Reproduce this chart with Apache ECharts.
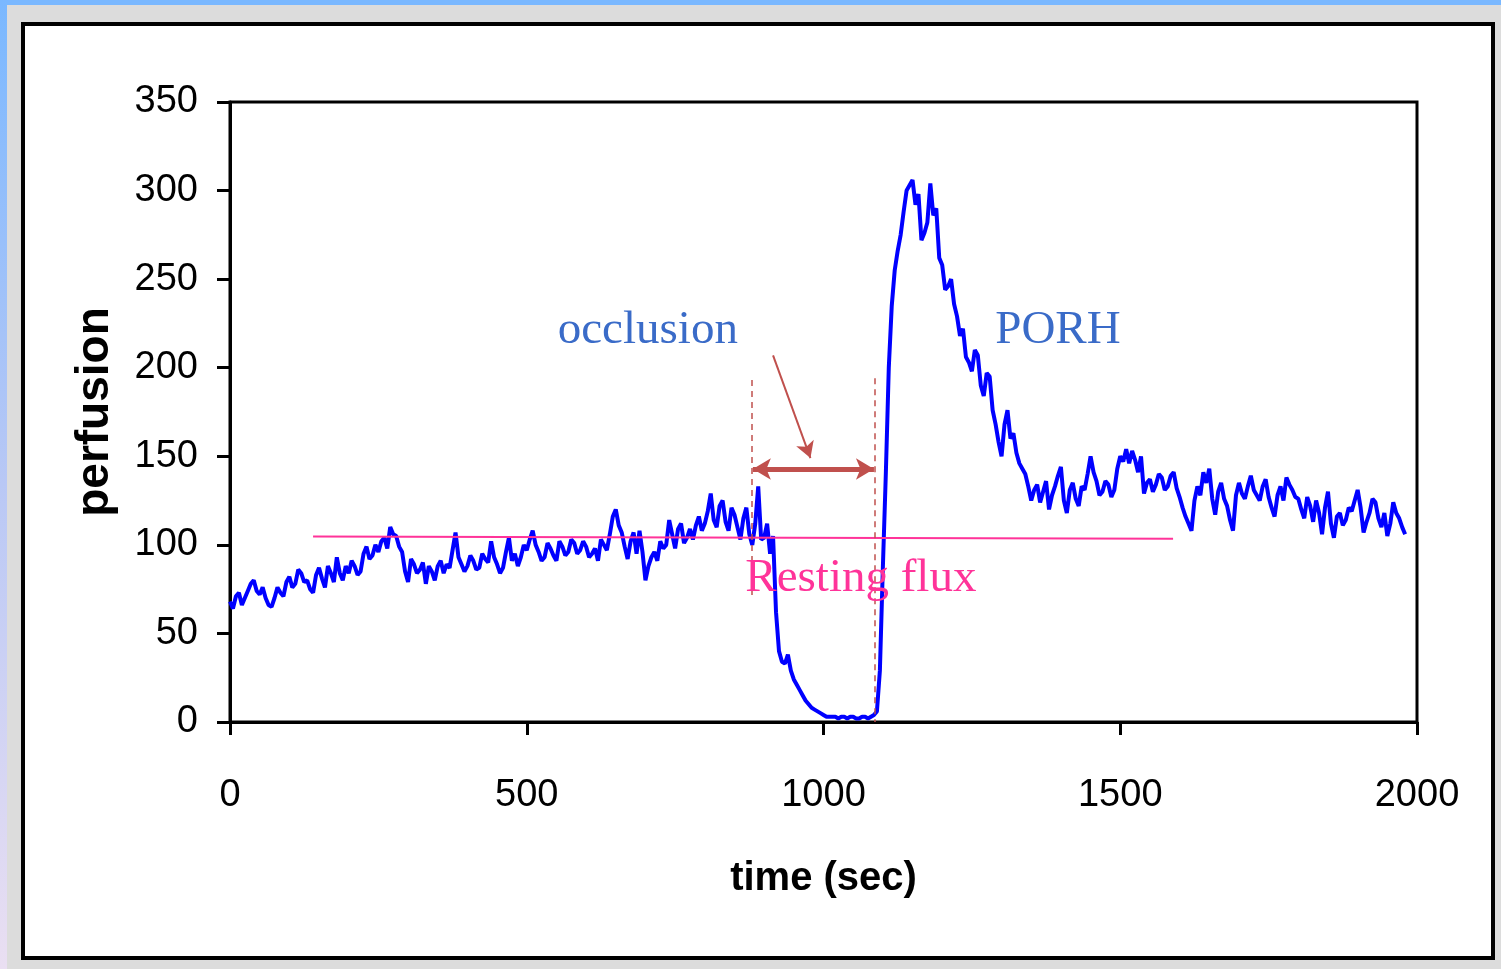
<!DOCTYPE html>
<html>
<head>
<meta charset="utf-8">
<script src="https://cdn.jsdelivr.net/npm/echarts@6/dist/echarts.min.js"></script>
<style>
  html, body { margin: 0; padding: 0; }
  body { width: 1501px; height: 969px; background: #dcdcdc; position: relative; overflow: hidden; }
  #topBar { position: absolute; left: 0; top: 0; width: 1501px; height: 5px; background: #7ab8ff; }
  #leftBar { position: absolute; left: 0; top: 0; width: 7px; height: 969px;
             background: linear-gradient(to bottom, #7ab8ff 0%, #b9c8f5 50%, #eadff2 100%); }
  #frame { position: absolute; left: 21px; top: 22px; width: 1474px; height: 938px;
           box-sizing: border-box; border: 4px solid #000; background: #fff; }
  #chart { position: absolute; left: 0; top: 0; width: 1501px; height: 969px; }
</style>
</head>
<body>
<div id="topBar"></div>
<div id="leftBar"></div>
<div id="frame"></div>
<div id="chart"></div>
<script>
// sample times (sec): every 10 s, plus the readings in between (t + 5)
var times = [];
for (var i = 0; i <= 198; i++) times.push(i * 10);
var timesMid = [];
for (var j = 0; j < 198; j++) timesMid.push(j * 10 + 5);

// perfusion at t = 0, 10, 20 ... (rows of 100 s)
var perfusion = [
    68, 71, 66, 74, 80, 72, 70, 65, 76, 71,
    82, 78, 84, 80, 73, 87, 76, 84, 93, 80,
    84, 88, 85, 99, 94, 96, 104, 110, 105, 96,
    79, 89, 86, 78, 85, 88, 84, 87, 107, 89,
    88, 91, 87, 92, 102, 89, 87, 104, 95, 93,
    97, 108, 96, 93, 98, 91, 99, 96, 101, 97,
    99, 95, 91, 100, 106, 120, 107, 92, 107, 108,
    80, 93, 91, 98, 114, 98, 112, 104, 103, 116,
    112, 129, 110, 125, 108, 117, 103, 121, 100, 133,
    104, 95, 62, 34, 38, 24, 18, 12, 8, 6,
    4, 3, 3, 3, 2, 3, 2, 3, 3, 6,
    87, 200, 255, 275, 300, 306, 298, 276, 304, 290,
    258, 246, 236, 218, 206, 198, 207, 184, 195, 168,
    150, 176, 163, 146, 140, 125, 134, 130, 120, 133,
    144, 118, 135, 122, 131, 150, 136, 130, 134, 131,
    150, 154, 153, 141, 129, 137, 134, 138, 133, 141,
    127, 116, 108, 133, 141, 143, 117, 135, 122, 108,
    135, 126, 139, 128, 133, 127, 116, 133, 138, 131,
    126, 115, 122, 125, 106, 130, 104, 118, 114, 119,
    131, 107, 118, 124, 110, 105, 124, 115, 106
];

// perfusion at t = 5, 15, 25 ...
var perfusionMid = [
    64, 73, 70, 78, 74, 76, 66, 70, 73, 79,
    76, 86, 79, 75, 83, 81, 88, 79, 84, 88,
    91, 83, 95, 92, 100, 102, 98, 106, 99, 85,
    92, 84, 90, 88, 80, 91, 89, 97, 93, 85,
    94, 86, 95, 90, 93, 84, 96, 91, 88, 100,
    103, 100, 91, 101, 94, 102, 94, 103, 95, 102,
    93, 98, 103, 97, 116, 111, 99, 102, 95, 96,
    88, 96, 102, 100, 106, 109, 101, 109, 111, 108,
    119, 114, 122, 113, 121, 110, 115, 106, 112, 103,
    112, 105, 40, 33, 29, 21, 15, 10, 7, 5,
    3, 3, 2, 3, 3, 2, 3, 2, 4, 29,
    140, 235, 266, 288, 303, 292, 272, 282, 286, 262,
    244, 250, 229, 222, 203, 210, 190, 197, 176, 158,
    168, 160, 152, 143, 133, 131, 124, 136, 128, 139,
    125, 131, 126, 133, 140, 141, 128, 136, 127, 143,
    147, 146, 148, 150, 135, 130, 140, 131, 139, 132,
    121, 112, 125, 128, 135, 126, 130, 126, 114, 128,
    129, 133, 131, 125, 137, 121, 128, 125, 134, 127,
    120, 127, 113, 118, 121, 112, 116, 111, 121, 125,
    121, 113, 126, 115, 118, 112, 118, 110
];

var xTicks = [0, 500, 1000, 1500, 2000];
var yTicks = [0, 50, 100, 150, 200, 250, 300, 350];

var seriesData = [];
times.forEach(function (t, i) {
    seriesData.push([t, perfusion[i]]);
    if (i < timesMid.length) seriesData.push([timesMid[i], perfusionMid[i]]);
});

var chart = echarts.init(document.getElementById('chart'));

var option = {
    animation: false,
    grid: {
        left: 230, top: 102, width: 1187, height: 620,
        show: true, borderColor: '#000', borderWidth: 3, backgroundColor: 'transparent'
    },
    xAxis: {
        type: 'value',
        min: xTicks[0], max: xTicks[xTicks.length - 1], interval: 500,
        name: 'time (sec)',
        nameLocation: 'middle',
        nameGap: 137,
        nameTextStyle: { fontFamily: 'Liberation Sans', fontWeight: 'bold', fontSize: 40, color: '#000' },
        axisLine: { lineStyle: { color: '#000', width: 3 } },
        axisTick: { length: 13, lineStyle: { color: '#000', width: 3 } },
        axisLabel: {
            fontFamily: 'Liberation Sans', fontSize: 38, color: '#000', margin: 55,
            formatter: function (v) { return String(v); }
        },
        splitLine: { show: false }
    },
    yAxis: {
        type: 'value',
        min: yTicks[0], max: yTicks[yTicks.length - 1], interval: 50,
        name: 'perfusion',
        nameLocation: 'middle',
        nameGap: 112,
        nameRotate: 90,
        nameTextStyle: { fontFamily: 'Liberation Sans', fontWeight: 'bold', fontSize: 46, color: '#000' },
        axisLine: { lineStyle: { color: '#000', width: 3 } },
        axisTick: { length: 13, lineStyle: { color: '#000', width: 3 } },
        axisLabel: { fontFamily: 'Liberation Sans', fontSize: 38, color: '#000', margin: 32 },
        splitLine: { show: false }
    },
    series: [{
        type: 'line',
        data: seriesData,
        showSymbol: false,
        lineStyle: { color: '#0000ff', width: 4 },
        itemStyle: { color: '#0000ff' },
        markLine: {
            silent: true,
            label: { show: false },
            symbol: ['none', 'none'],
            data: [
                // resting flux level
                [{ coord: [140, 104.7], lineStyle: { color: '#ff3399', width: 2, type: 'solid' } },
                 { coord: [1589, 103.5] }],
                // occlusion start / end
                [{ coord: [879, 193], lineStyle: { color: '#c0504d', width: 1.5, type: [6, 5] } },
                 { coord: [879, 70] }],
                [{ coord: [1087, 194], lineStyle: { color: '#c0504d', width: 1.5, type: [6, 5] } },
                 { coord: [1087, 0] }],
                // occlusion span
                [{ coord: [881, 142.8], symbol: 'arrow', symbolSize: [16, 18],
                   lineStyle: { color: '#c0504d', width: 5, type: 'solid' } },
                 { coord: [1085, 142.8], symbol: 'arrow', symbolSize: [16, 18] }],
                // pointer from label
                [{ coord: [915, 207], symbol: 'none',
                   lineStyle: { color: '#c0504d', width: 2, type: 'solid' } },
                 { coord: [978, 149], symbol: 'arrow', symbolSize: [14, 16] }]
            ]
        },
        markPoint: {
            silent: true,
            symbol: 'circle',
            symbolSize: 1,
            itemStyle: { color: 'rgba(0,0,0,0)' },
            label: { show: true, position: 'inside', fontFamily: 'Liberation Serif', fontSize: 47 },
            data: [
                { coord: [704, 221], label: { formatter: 'occlusion', color: '#3a6bc8' } },
                { coord: [1395, 221], label: { formatter: 'PORH', color: '#3a6bc8' } },
                { coord: [1063, 81], label: { formatter: 'Resting flux', color: '#ff3399' } }
            ]
        }
    }]
};

chart.setOption(option);
</script>
</body>
</html>
